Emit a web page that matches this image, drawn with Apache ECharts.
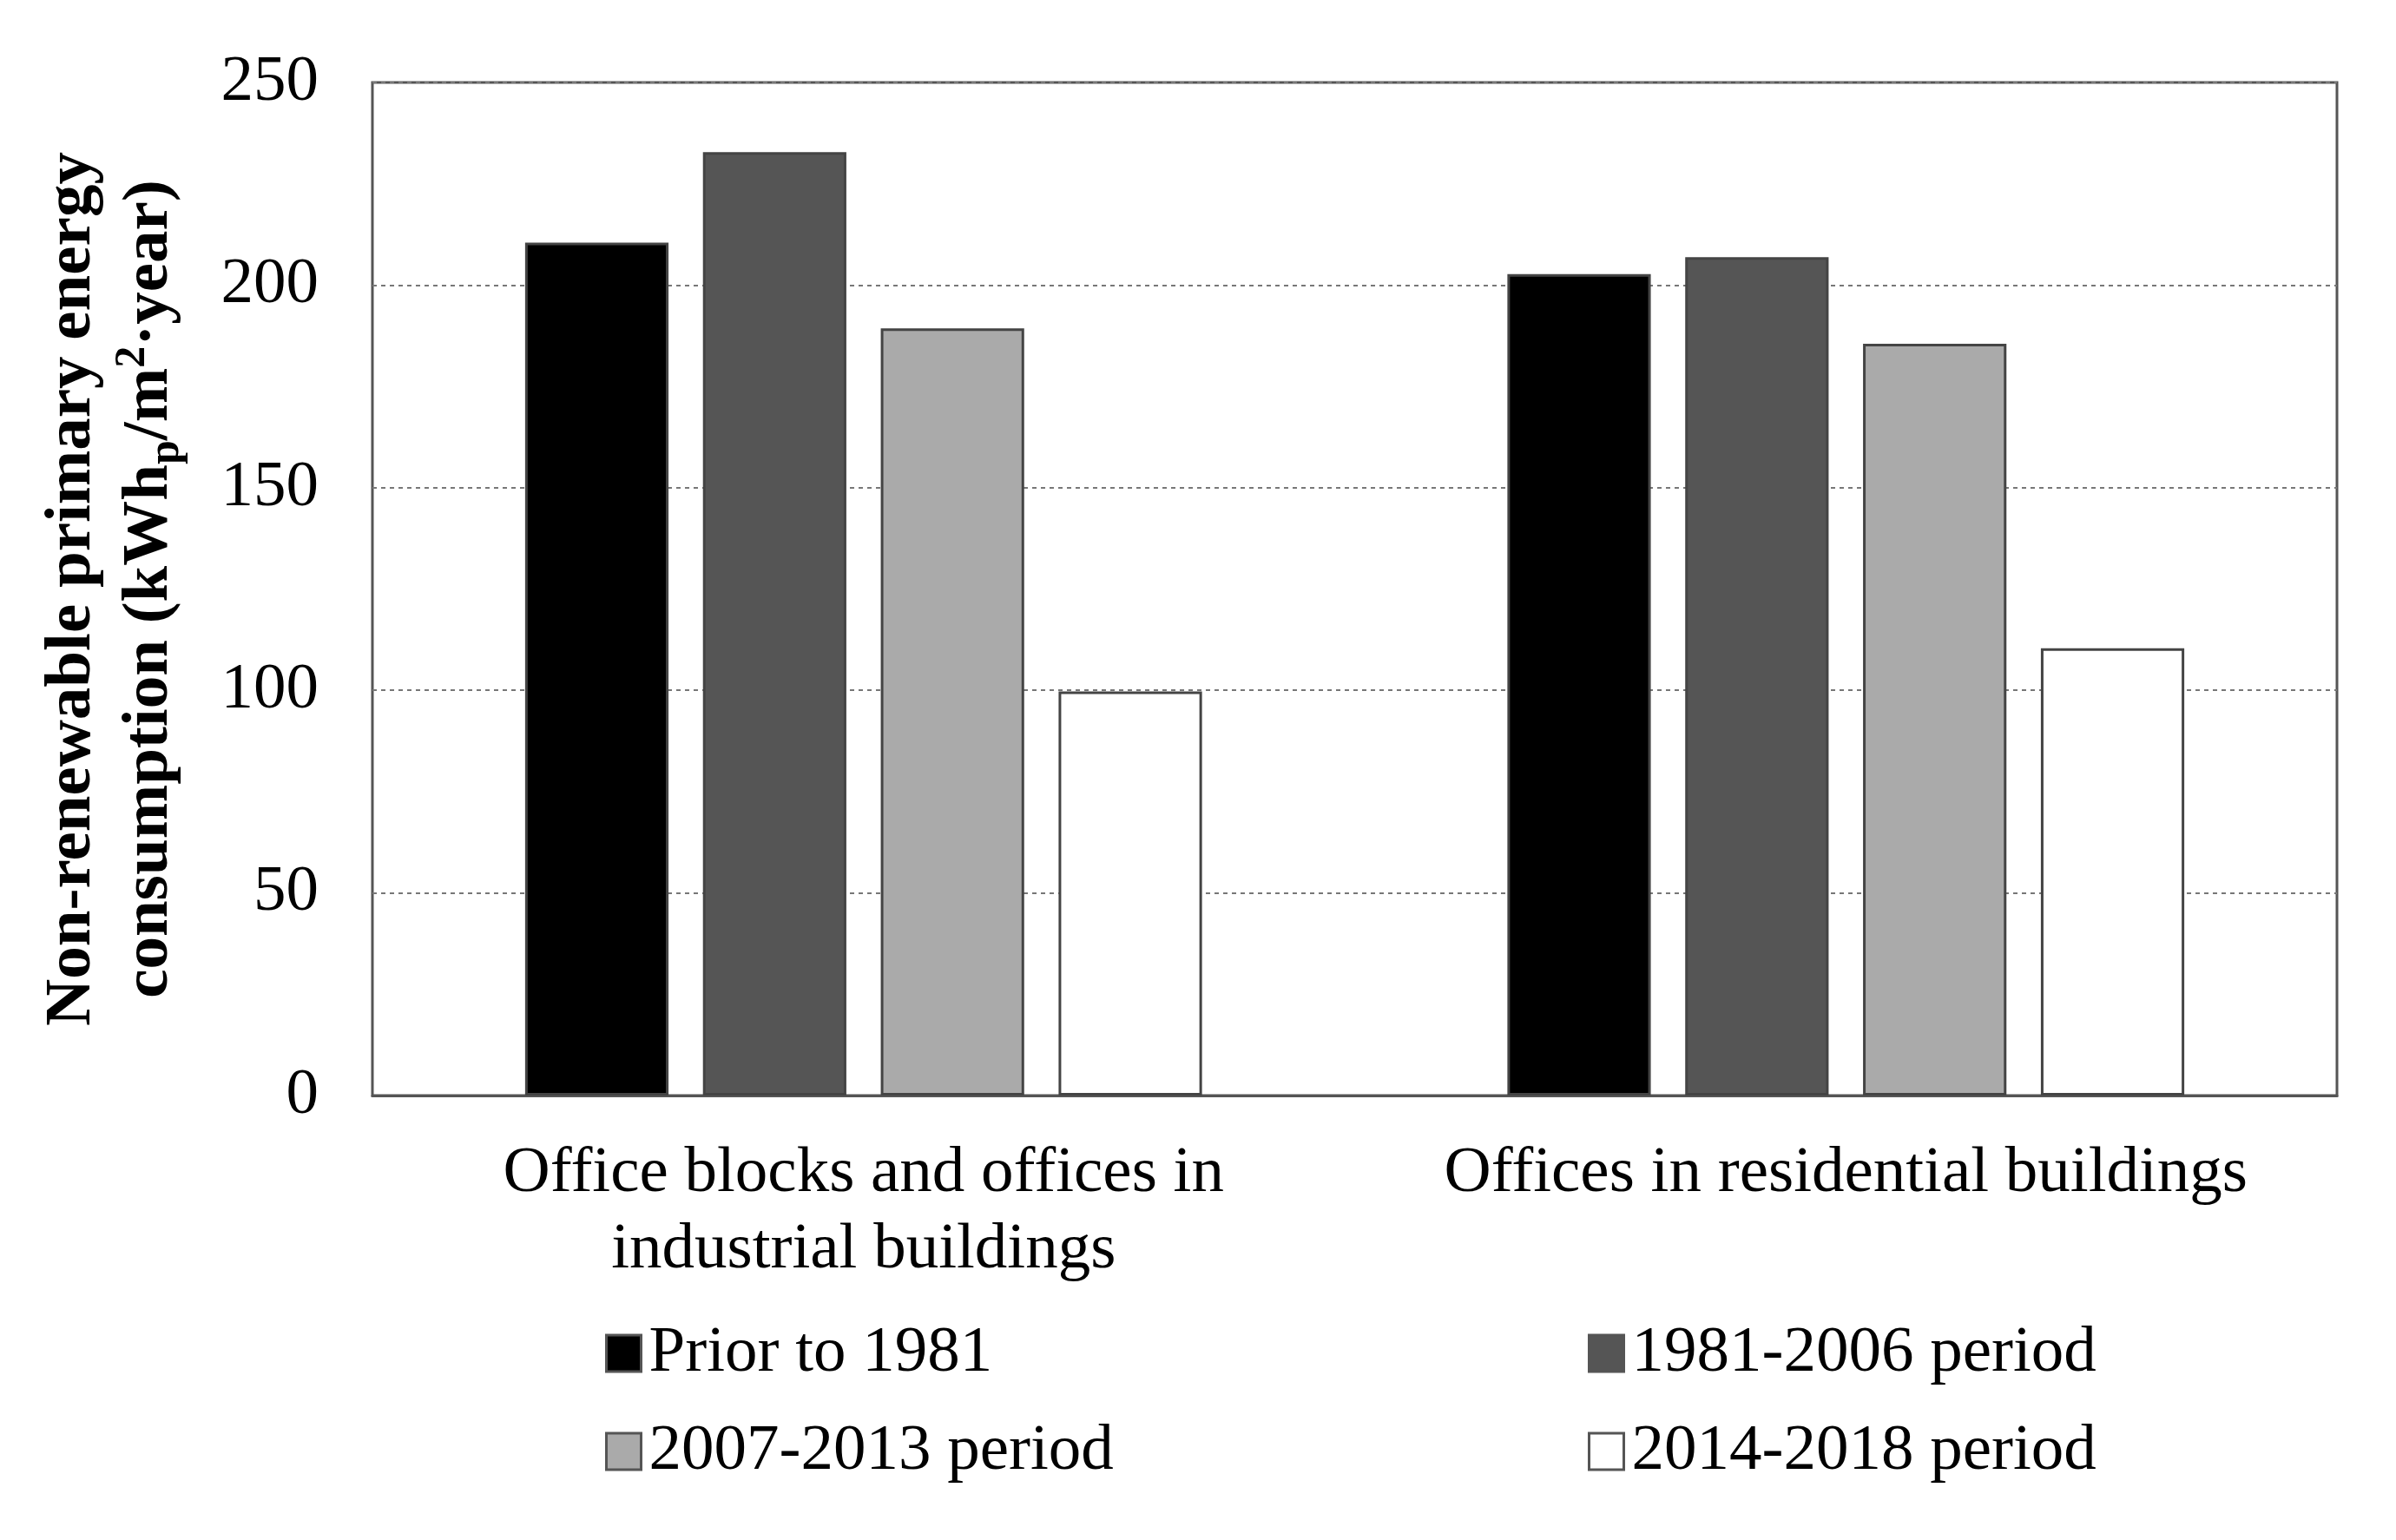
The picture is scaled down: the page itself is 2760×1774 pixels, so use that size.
<!DOCTYPE html>
<html><head><meta charset="utf-8">
<script src="https://cdn.jsdelivr.net/npm/echarts@6/dist/echarts.min.js"></script>
<style>html,body{margin:0;padding:0;background:#fff}#c{width:2760px;height:1774px}</style>
</head><body><div id="c"></div>
<script>
const categories = ['Office blocks and offices in\nindustrial buildings', 'Offices in residential buildings'];
const seriesNames = ['Prior to 1981', '1981-2006 period', '2007-2013 period', '2014-2018 period'];
const prior1981 = [210.5, 202.7];
const p1981_2006 = [232.8, 206.9];
const p2007_2013 = [189.3, 185.5];
const p2014_2018 = [99.7, 110.4];
const yTicks = [0, 50, 100, 150, 200, 250];

const colors = ['#000000', '#555555', '#aaaaaa', '#ffffff'];
const values = [prior1981, p1981_2006, p2007_2013, p2014_2018];
const FONT = 'Liberation Serif, Times New Roman, serif';

const chart = echarts.init(document.getElementById('c'));
const legendText = {fontFamily: FONT, fontSize: 75, color: '#000', lineHeight: 80, padding: [0, 0, 0, 4]};
chart.setOption({
  backgroundColor: '#fff',
  animation: false,
  grid: {left: 429, right: 68, top: 95, bottom: 512, show: true, borderColor: '#555', borderWidth: 3, backgroundColor: 'transparent'},
  legend: [
    {data: [seriesNames[0], seriesNames[2]], orient: 'vertical', left: 692, top: 1514, itemWidth: 40, itemHeight: 42, itemGap: 33, textStyle: legendText, icon: 'rect', itemStyle: {borderColor: '#555', borderWidth: 3}},
    {data: [seriesNames[1], seriesNames[3]], orient: 'vertical', left: 1824, top: 1514, itemWidth: 40, itemHeight: 42, itemGap: 33, textStyle: legendText, icon: 'rect', itemStyle: {borderColor: '#555', borderWidth: 3}}
  ],
  xAxis: {
    type: 'category', data: categories,
    axisLine: {show: true, lineStyle: {color: '#555', width: 3}},
    axisTick: {show: false},
    axisLabel: {fontFamily: FONT, fontSize: 75, color: '#000', lineHeight: 88, margin: 46, interval: 0}
  },
  yAxis: {
    type: 'value', min: yTicks[0], max: yTicks[yTicks.length - 1], interval: 50,
    axisLine: {show: false}, axisTick: {show: false},
    axisLabel: {fontFamily: FONT, fontSize: 75, color: '#000', margin: 62},
    splitLine: {show: true, lineStyle: {color: '#777', type: [5, 5], width: 2}},
    name: 'Non-renewable primary energy\n{b|consumption (kWh}{sub|p}{b|/m}{sup|2}{b|·year)}',
    nameLocation: 'middle', nameRotate: 90, nameGap: 212,
    nameTextStyle: {
      fontFamily: FONT, fontSize: 75, fontWeight: 'bold', color: '#000', lineHeight: 89,
      rich: {
        b: {fontFamily: FONT, fontSize: 75, fontWeight: 'bold', color: '#000', lineHeight: 89},
        sub: {fontFamily: FONT, fontSize: 50, fontWeight: 'bold', color: '#000', lineHeight: 60, verticalAlign: 'bottom'},
        sup: {fontFamily: FONT, fontSize: 50, fontWeight: 'bold', color: '#000', lineHeight: 60, verticalAlign: 'top'}
      }
    }
  },
  series: seriesNames.map((n, i) => ({
    name: n, type: 'bar', data: values[i],
    barWidth: '14.6%', barGap: '24%',
    itemStyle: {color: colors[i], borderColor: '#444', borderWidth: 3}
  }))
});
</script></body></html>
